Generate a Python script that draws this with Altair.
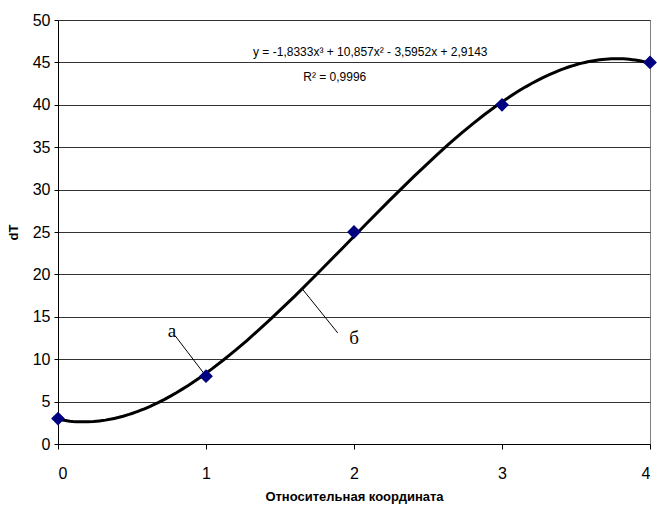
import altair as alt
import pandas as pd

# data
x_vals = [0, 1, 2, 3, 4]
y_vals = [3, 8, 25, 40, 45]

x_ticks = [0, 1, 2, 3, 4]
y_ticks = [0, 5, 10, 15, 20, 25, 30, 35, 40, 45, 50]

ann_labels = ["а", "б"]
ann_x = [0.77, 2.0]
ann_y = [13.3, 12.5]
lead_x1 = [0.79, 1.65]
lead_y1 = [12.8, 18.3]
lead_x2 = [1.0, 1.89]
lead_y2 = [8.0, 13.1]

eq_texts = ["y = -1,8333x³ + 10,857x² - 3,5952x + 2,9143", "R² = 0,9996"]
eq_x = [2.11, 1.87]
eq_y = [46.2, 43.3]

df = pd.DataFrame({"x": x_vals, "y": y_vals})
ann_df = pd.DataFrame({"label": ann_labels, "x": ann_x, "y": ann_y})
lead_df = pd.DataFrame({"x": lead_x1, "y": lead_y1, "x2": lead_x2, "y2": lead_y2})
eq_df = pd.DataFrame({"t": eq_texts, "x": eq_x, "y": eq_y})

xs = alt.Scale(domain=[0, 4], nice=False, zero=False)
ys = alt.Scale(domain=[0, 50], nice=False)

x_axis = alt.Axis(values=x_ticks, format="d", grid=False, title="Относительная координата",
                  domainColor="black", tickColor="black", tickSize=5,
                  labelFontSize=16, labelPadding=16, labelColor="black",
                  titleFontSize=13, titleFontWeight="bold", titlePadding=9, titleColor="black")
y_axis = alt.Axis(values=y_ticks, grid=True, gridColor="#333333", gridWidth=1, title="dT",
                  domainColor="black", tickColor="black", tickSize=4,
                  labelFontSize=16, labelPadding=4, labelColor="black",
                  titleFontSize=13, titleFontWeight="bold", titlePadding=12, titleColor="black")

base = alt.Chart(df)

curve = base.transform_regression("x", "y", method="poly", order=3, extent=[0, 4]).mark_line(
    color="black", strokeWidth=3
).encode(
    x=alt.X("x:Q", scale=xs, axis=x_axis),
    y=alt.Y("y:Q", scale=ys, axis=y_axis),
)

points = base.mark_point(shape="diamond", filled=True, color="#000080", size=190, opacity=1).encode(
    x=alt.X("x:Q", scale=xs),
    y=alt.Y("y:Q", scale=ys),
)

leads = alt.Chart(lead_df).mark_rule(color="black", strokeWidth=1).encode(
    x=alt.X("x:Q", scale=xs), y=alt.Y("y:Q", scale=ys), x2="x2:Q", y2="y2:Q"
)

ann = alt.Chart(ann_df).mark_text(font="Liberation Serif", fontSize=19, color="black").encode(
    x=alt.X("x:Q", scale=xs), y=alt.Y("y:Q", scale=ys), text="label:N"
)

eq = alt.Chart(eq_df).mark_text(font="Liberation Sans", fontSize=12, color="black").encode(
    x=alt.X("x:Q", scale=xs), y=alt.Y("y:Q", scale=ys), text="t:N"
)

chart = alt.layer(curve, leads, points, ann, eq).properties(
    width=592, height=424,
    autosize=alt.AutoSizeParams(type="none"),
    padding={"left": 58, "top": 20, "right": 7, "bottom": 62},
).configure_view(stroke="#808080", strokeWidth=1).configure_axis(
    labelFont="Liberation Sans", titleFont="Liberation Sans"
)

chart.save("out.html", embed_options={"renderer": "svg", "actions": False})
